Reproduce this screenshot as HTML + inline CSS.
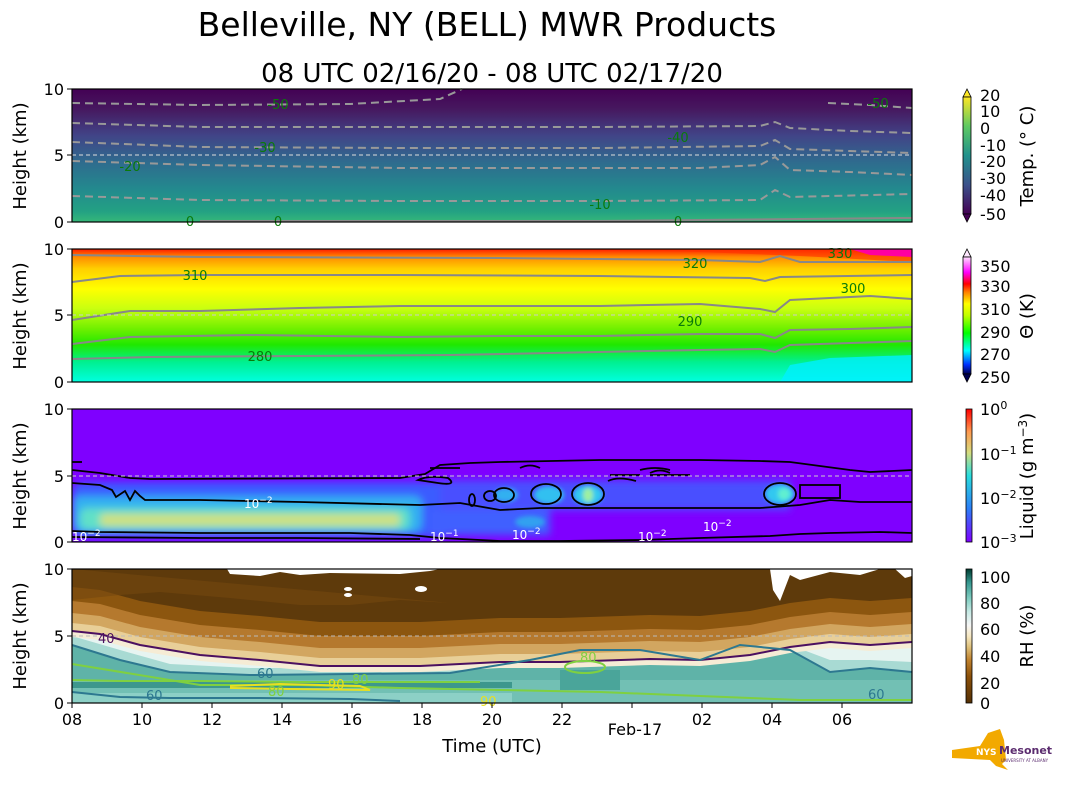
<!DOCTYPE html>
<html><head><meta charset="utf-8"><style>
body{margin:0;background:#fff;}
svg text{font-family:"DejaVu Sans","Liberation Sans",sans-serif;}
</style></head><body>
<svg width="1066" height="806" viewBox="0 0 1066 806" xmlns="http://www.w3.org/2000/svg">
<defs>
<linearGradient id="gT" x1="0" y1="0" x2="0" y2="1">
<stop offset="0" stop-color="#440154"/><stop offset="0.15" stop-color="#46185f"/><stop offset="0.35" stop-color="#414487"/><stop offset="0.55" stop-color="#2f6b8e"/><stop offset="0.75" stop-color="#23898e"/><stop offset="0.92" stop-color="#23a183"/><stop offset="1" stop-color="#35b779"/></linearGradient>
<linearGradient id="gP" x1="0" y1="0" x2="0" y2="1">
<stop offset="0" stop-color="#ff1a00"/><stop offset="0.06" stop-color="#ff8c00"/><stop offset="0.15" stop-color="#ffd000"/><stop offset="0.3" stop-color="#ffff00"/><stop offset="0.45" stop-color="#c8ff10"/><stop offset="0.6" stop-color="#70f000"/><stop offset="0.72" stop-color="#20e800"/><stop offset="0.85" stop-color="#00f090"/><stop offset="1" stop-color="#00ffe0"/></linearGradient>
<linearGradient id="gTc" x1="0" y1="1" x2="0" y2="0">
<stop offset="0" stop-color="#440154"/><stop offset="0.25" stop-color="#3b528b"/><stop offset="0.5" stop-color="#21918c"/><stop offset="0.75" stop-color="#5ec962"/><stop offset="1" stop-color="#fde725"/></linearGradient>
<linearGradient id="gPc" x1="0" y1="1" x2="0" y2="0">
<stop offset="0" stop-color="#000050"/><stop offset="0.08" stop-color="#0030ff"/><stop offset="0.2" stop-color="#00ffff"/><stop offset="0.35" stop-color="#00ff00"/><stop offset="0.5" stop-color="#c0ff00"/><stop offset="0.6" stop-color="#ffff00"/><stop offset="0.7" stop-color="#ff8000"/><stop offset="0.77" stop-color="#ff0000"/><stop offset="0.87" stop-color="#ff00ff"/><stop offset="1" stop-color="#ffe0ff"/></linearGradient>
<linearGradient id="gLc" x1="0" y1="1" x2="0" y2="0">
<stop offset="0" stop-color="#7f00ff"/><stop offset="0.25" stop-color="#2c7ef7"/><stop offset="0.5" stop-color="#2adddd"/><stop offset="0.67" stop-color="#d4dd80"/><stop offset="0.83" stop-color="#ff9a50"/><stop offset="1" stop-color="#ff0000"/></linearGradient>
<linearGradient id="gRc" x1="0" y1="1" x2="0" y2="0">
<stop offset="0" stop-color="#543005"/><stop offset="0.2" stop-color="#8c510a"/><stop offset="0.32" stop-color="#bf812d"/><stop offset="0.42" stop-color="#dfc27d"/><stop offset="0.5" stop-color="#f6e8c3"/><stop offset="0.58" stop-color="#f5f5f5"/><stop offset="0.68" stop-color="#c7eae5"/><stop offset="0.78" stop-color="#80cdc1"/><stop offset="0.9" stop-color="#35978f"/><stop offset="1" stop-color="#003c30"/></linearGradient>
<clipPath id="c4"><rect x="72" y="569" width="840" height="134"/></clipPath>
<clipPath id="c3"><rect x="72" y="409" width="840" height="133"/></clipPath>
<filter id="bl"><feGaussianBlur stdDeviation="4"/></filter>
<filter id="bl2"><feGaussianBlur stdDeviation="2"/></filter>
</defs>

<text x="487" y="36" font-size="33" text-anchor="middle">Belleville, NY (BELL) MWR Products</text>
<text x="492" y="82" font-size="26" text-anchor="middle">08 UTC 02/16/20 - 08 UTC 02/17/20</text>

<!-- Panel 1 -->
<rect x="72" y="89" width="840" height="133" fill="url(#gT)"/>
<g fill="none" stroke="#999" stroke-width="2" stroke-dasharray="8,5">
<polyline points="72,103 200,105 350,104 440,99 462,89"/>
<polyline points="828,103 870,105 912,108"/>
<polyline points="72,123 200,127 400,127 600,127 760,126 775,122 790,128 850,131 912,133"/>
<polyline points="72,142 200,147 400,148 600,148 760,146 775,140 790,149 850,151 912,153"/>
<polyline points="72,161 200,165 400,168 600,168 700,168 760,165 775,157 790,170 850,172 912,175"/>
<polyline points="72,196 200,200 400,201 600,201 760,200 775,190 790,197 912,194"/>
</g>
<g fill="none" stroke="#888" stroke-width="2"><polyline points="200,221 600,221 900,218 912,218"/></g>
<line x1="72" y1="155" x2="912" y2="155" stroke="#ddd" stroke-width="1" stroke-dasharray="4,3"/>
<g fill="#0a7a0a" font-size="13" text-anchor="middle">
<text x="278" y="109">-50</text><text x="878" y="108">-50</text><text x="265" y="152">-30</text><text x="678" y="142">-40</text>
<text x="130" y="171">-20</text><text x="600" y="209">-10</text><text x="190" y="226">0</text><text x="278" y="226">0</text><text x="678" y="226">0</text></g>
<rect x="72" y="89" width="840" height="133" fill="none" stroke="#000" stroke-width="1.2"/>

<!-- Panel 2 -->
<rect x="72" y="249" width="840" height="133" fill="url(#gP)"/>
<polygon points="600,249 912,249 912,262 800,256 700,252" fill="#ff3000" opacity="0.6"/>
<polygon points="850,249 912,249 912,257 870,255" fill="#ff00a0"/>
<polygon points="780,382 790,365 830,358 912,355 912,382" fill="#00f0ff" opacity="0.8"/>
<g fill="none" stroke="#888" stroke-width="2">
<polyline points="72,255 200,257 500,258 700,260 760,262 780,256 800,262 912,262"/>
<polyline points="72,282 120,276 200,275 400,275 600,276 750,278 765,281 780,277 912,275"/>
<polyline points="72,320 130,311 200,311 300,308 400,306 500,306 600,306 700,304 760,309 775,312 790,300 830,298 870,296 912,299"/>
<polyline points="72,344 130,337 250,335 400,337 500,336 600,336 700,334 760,334 775,338 790,330 850,329 912,327"/>
<polyline points="72,359 150,357 300,356 450,355 550,353 700,350 760,349 775,352 790,345 850,343 912,341"/>
</g>
<line x1="72" y1="315" x2="912" y2="315" stroke="#ccc" stroke-width="1" stroke-dasharray="4,3"/>
<g fill="#0a7a0a" font-size="13" text-anchor="middle">
<text x="195" y="280">310</text><text x="695" y="268">320</text><text x="840" y="258">330</text><text x="853" y="293">300</text><text x="690" y="326">290</text><text x="260" y="361">280</text></g>
<rect x="72" y="249" width="840" height="133" fill="none" stroke="#000" stroke-width="1.2"/>

<!-- Panel 3 -->
<rect x="72" y="409" width="840" height="133" fill="#7f00ff"/>
<g clip-path="url(#c3)">
<g filter="url(#bl)">
<rect x="72" y="482" width="380" height="55" fill="#3a5cff" rx="10"/>
<rect x="72" y="496" width="350" height="36" fill="#30b0f0" rx="8"/>
<rect x="80" y="508" width="330" height="22" fill="#60e0c8" rx="6"/>
<rect x="100" y="514" width="300" height="12" fill="#cfe080" rx="4"/>
<rect x="440" y="480" width="350" height="30" fill="#4a50ff"/>
<rect x="430" y="510" width="120" height="25" fill="#4060ff"/>
</g>
<g filter="url(#bl2)">
<ellipse cx="506" cy="495" rx="12" ry="7" fill="#30b0f0"/><ellipse cx="549" cy="495" rx="15" ry="9" fill="#30c0f0"/>
<ellipse cx="588" cy="495" rx="15" ry="10" fill="#30c8f0"/><ellipse cx="588" cy="495" rx="5" ry="7" fill="#9ef0a0"/>
<ellipse cx="780" cy="494" rx="15" ry="10" fill="#30c8f0"/><ellipse cx="784" cy="494" rx="6" ry="6" fill="#60f0d0"/>
<ellipse cx="530" cy="522" rx="15" ry="6" fill="#30a0f0"/>
</g>
<g fill="none" stroke="#000" stroke-width="1.8">
<polyline points="72,483 100,485 112,490 116,497 125,491 130,500 135,491 140,496 145,500 200,500 300,502 420,505 460,503 500,510 540,508 600,508 760,508 800,505 830,500 860,502 912,502"/>
<polyline points="72,470 100,473 130,478 150,479 400,478 425,474 440,465 470,463 500,462 600,460 700,460 760,461 790,462 820,466 850,470 870,472 912,470"/>
<polyline points="72,531 100,532 200,533 350,533 410,535 440,538 500,541 560,541 640,540 700,538 770,536 800,534 830,533 880,532 912,533"/>
<polyline points="72,537 200,538 300,538 420,539"/>
<polyline points="72,462 82,462"/>
<path d="M418,480 q10,-5 30,-2 q10,8 -10,5 z"/>
<ellipse cx="504" cy="495" rx="10" ry="7"/><ellipse cx="546" cy="494" rx="15" ry="10"/><ellipse cx="588" cy="494" rx="16" ry="11"/><ellipse cx="780" cy="494" rx="16" ry="11"/>
<ellipse cx="472" cy="500" rx="3" ry="6"/><ellipse cx="490" cy="496" rx="6" ry="5"/>
<rect x="800" y="485" width="40" height="13"/>
<path d="M610,475 h30 M650,475 h40 M430,468 h30 M520,468 q10,-5 20,0 M650,473 q10,-5 20,0"/>
<path d="M608,481 q10,-5 28,0 M640,470 q15,-4 30,0"/>
</g>
</g>
<line x1="72" y1="476" x2="912" y2="476" stroke="#ccc" stroke-width="1" stroke-dasharray="4,3"/>
<g fill="#fff" font-size="12">
<text x="244" y="508">10<tspan dy="-5" font-size="9">−2</tspan></text>
<text x="72" y="541">10<tspan dy="-5" font-size="9">−2</tspan></text>
<text x="430" y="541">10<tspan dy="-5" font-size="9">−1</tspan></text>
<text x="512" y="539">10<tspan dy="-5" font-size="9">−2</tspan></text>
<text x="638" y="541">10<tspan dy="-5" font-size="9">−2</tspan></text>
<text x="703" y="531">10<tspan dy="-5" font-size="9">−2</tspan></text></g>
<rect x="72" y="409" width="840" height="133" fill="none" stroke="#000" stroke-width="1.2"/>

<!-- Panel 4 -->
<rect x="72" y="569" width="840" height="134" fill="#5fb3a8"/>
<g clip-path="url(#c4)">
<defs><polyline id="L40" points="72,631 100,634 140,645 200,655 260,660 320,666 420,666 500,662 560,662 650,659 700,660 750,655 790,647 830,642 870,645 912,642 912,560 72,560"/></defs>
<polygon points="72,645 120,660 170,672 250,675 350,674 450,673 530,660 580,650 640,650 700,660 740,645 790,650 830,672 870,668 912,672 912,560 72,560" fill="#a8dad3"/>
<polygon points="72,636 120,650 170,664 250,668 350,668 450,668 530,655 580,645 640,645 700,655 740,640 790,645 830,660 870,660 912,662 912,560 72,560" fill="#e6f4f1"/>
<use href="#L40" transform="translate(0,6)" fill="#f6ecd5"/>
<use href="#L40" fill="#e8cf98"/>
<use href="#L40" transform="translate(0,-8)" fill="#d2a660"/>
<use href="#L40" transform="translate(0,-18)" fill="#b5792e"/>
<use href="#L40" transform="translate(0,-30)" fill="#8c560f"/>
<use href="#L40" transform="translate(0,-44)" fill="#5e3a0b"/>
<polygon points="72,569 72,600 120,595 160,592 230,598 300,605 350,605 400,600 450,603" fill="#74470f" opacity="0.6"/>
<rect x="72" y="680" width="840" height="23" fill="#72c0b4"/>
<rect x="72" y="682" width="440" height="6" fill="#3d978d"/>
<rect x="72" y="693" width="440" height="10" fill="#8cd0c6"/>
<rect x="560" y="670" width="60" height="20" fill="#4aa59a"/>
</g>
<polygon points="227,569 230,574 260,576 280,572 300,575 330,573 400,574 430,571 440,569" fill="#fff"/>
<polygon points="770,569 773,590 780,601 790,575 800,580 830,572 860,575 880,569" fill="#fff"/>
<polygon points="895,569 905,578 912,576 912,569" fill="#fff"/>
<ellipse cx="348" cy="589" rx="4" ry="2" fill="#fff"/><ellipse cx="348" cy="595" rx="4" ry="2" fill="#fff"/><ellipse cx="421" cy="589" rx="6" ry="3" fill="#fff"/>
<g fill="none" stroke-width="2">
<polyline stroke="#4b1060" points="72,631 100,634 140,645 200,655 260,660 320,666 420,666 500,662 560,662 650,659 700,660 750,655 790,647 830,642 870,645 912,642"/>
<polyline stroke="#2d7890" points="72,645 120,660 170,672 250,675 350,674 450,673 530,660 580,650 640,650 700,660 740,645 790,650 830,672 870,668 912,672"/>
<polyline stroke="#2d7890" points="72,692 120,697 170,698 260,698 350,699 400,701"/>
<polyline stroke="#7fd040" points="72,664 200,685 300,685 400,688 500,690 600,692 700,696 800,700 912,700"/>
<polyline stroke="#7fd040" points="72,680 120,681 200,681 300,682 420,682 480,682"/>
<ellipse stroke="#7fd040" cx="585" cy="667" rx="20" ry="6"/>
<polyline stroke="#e8e020" points="230,686 280,684 360,686 370,690 290,689 230,688"/>
</g>
<line x1="72" y1="636" x2="912" y2="636" stroke="#bbb" stroke-width="1" stroke-dasharray="4,3"/>
<g font-size="13">
<text x="98" y="643" fill="#4b1060">40</text>
<text x="257" y="678" fill="#2d7890">60</text><text x="146" y="700" fill="#2d7890">60</text><text x="868" y="699" fill="#2d7890">60</text>
<text x="268" y="696" fill="#7fd040">80</text><text x="352" y="684" fill="#7fd040">80</text><text x="580" y="662" fill="#7fd040">80</text>
<text x="328" y="689" fill="#e8e020">90</text><text x="480" y="706" fill="#e8e020">90</text></g>
<rect x="72" y="569" width="840" height="134" fill="none" stroke="#000" stroke-width="1.2"/>

<!-- Y axes -->
<g stroke="#000" stroke-width="1">
<line x1="67" y1="89" x2="72" y2="89"/><line x1="67" y1="155" x2="72" y2="155"/><line x1="67" y1="222" x2="72" y2="222"/>
<line x1="67" y1="249" x2="72" y2="249"/><line x1="67" y1="315" x2="72" y2="315"/><line x1="67" y1="382" x2="72" y2="382"/>
<line x1="67" y1="409" x2="72" y2="409"/><line x1="67" y1="476" x2="72" y2="476"/><line x1="67" y1="542" x2="72" y2="542"/>
<line x1="67" y1="569" x2="72" y2="569"/><line x1="67" y1="636" x2="72" y2="636"/><line x1="67" y1="703" x2="72" y2="703"/>
</g>
<g font-size="16" text-anchor="end">
<text x="64" y="95">10</text><text x="64" y="161">5</text><text x="64" y="228">0</text>
<text x="64" y="255">10</text><text x="64" y="321">5</text><text x="64" y="388">0</text>
<text x="64" y="415">10</text><text x="64" y="482">5</text><text x="64" y="548">0</text>
<text x="64" y="575">10</text><text x="64" y="642">5</text><text x="64" y="709">0</text></g>
<g font-size="18" text-anchor="middle">
<text transform="translate(26,156) rotate(-90)">Height (km)</text>
<text transform="translate(26,316) rotate(-90)">Height (km)</text>
<text transform="translate(26,476) rotate(-90)">Height (km)</text>
<text transform="translate(26,636) rotate(-90)">Height (km)</text></g>

<!-- X axis -->
<g stroke="#000"><line x1="72" y1="703" x2="72" y2="708"/><line x1="142" y1="703" x2="142" y2="708"/><line x1="212" y1="703" x2="212" y2="708"/><line x1="282" y1="703" x2="282" y2="708"/><line x1="352" y1="703" x2="352" y2="708"/><line x1="422" y1="703" x2="422" y2="708"/><line x1="492" y1="703" x2="492" y2="708"/><line x1="562" y1="703" x2="562" y2="708"/><line x1="632" y1="703" x2="632" y2="708"/><line x1="702" y1="703" x2="702" y2="708"/><line x1="772" y1="703" x2="772" y2="708"/><line x1="842" y1="703" x2="842" y2="708"/></g>
<g font-size="16" text-anchor="middle">
<text x="72" y="725">08</text><text x="142" y="725">10</text><text x="212" y="725">12</text><text x="282" y="725">14</text><text x="352" y="725">16</text><text x="422" y="725">18</text><text x="492" y="725">20</text><text x="562" y="725">22</text><text x="635" y="735">Feb-17</text><text x="702" y="725">02</text><text x="772" y="725">04</text><text x="842" y="725">06</text></g>
<text x="492" y="752" font-size="18" text-anchor="middle">Time (UTC)</text>

<!-- Colorbars -->
<g>
<polygon points="963,97 967,89 971,97" fill="#fde725" stroke="#000" stroke-width="0.8"/>
<rect x="963" y="97" width="8" height="117" fill="url(#gTc)" stroke="#000" stroke-width="0.8"/>
<polygon points="963,214 967,222 971,214" fill="#440154" stroke="#000" stroke-width="0.8"/>
<polygon points="963,257 967,249 971,257" fill="#ffe8ff" stroke="#000" stroke-width="0.8"/>
<rect x="963" y="257" width="8" height="117" fill="url(#gPc)" stroke="#000" stroke-width="0.8"/>
<polygon points="963,374 967,382 971,374" fill="#000050" stroke="#000" stroke-width="0.8"/>
<rect x="966" y="409" width="6" height="133" fill="url(#gLc)" stroke="#000" stroke-width="0.8"/>
<rect x="966" y="569" width="6" height="134" fill="url(#gRc)" stroke="#000" stroke-width="0.8"/>
</g>
<g font-size="16">
<text x="980" y="101">20</text><text x="980" y="117">10</text><text x="980" y="134">0</text><text x="980" y="151">-10</text><text x="980" y="167">-20</text><text x="980" y="184">-30</text><text x="980" y="201">-40</text><text x="980" y="220">-50</text>
<text x="980" y="272">350</text><text x="980" y="292">330</text><text x="980" y="315">310</text><text x="980" y="338">290</text><text x="980" y="360">270</text><text x="980" y="383">250</text>
<text x="980" y="415">10<tspan dy="-6" font-size="11">0</tspan></text><text x="980" y="460">10<tspan dy="-6" font-size="11">−1</tspan></text><text x="980" y="504">10<tspan dy="-6" font-size="11">−2</tspan></text><text x="980" y="548">10<tspan dy="-6" font-size="11">−3</tspan></text>
<text x="980" y="583">100</text><text x="980" y="609">80</text><text x="980" y="635">60</text><text x="980" y="662">40</text><text x="980" y="689">20</text><text x="980" y="709">0</text></g>
<g font-size="18" text-anchor="middle">
<text transform="translate(1033,156) rotate(-90)">Temp. (° C)</text>
<text transform="translate(1033,316) rotate(-90)">Θ (K)</text>
<text transform="translate(1033,476) rotate(-90)">Liquid (g m<tspan dy="-6" font-size="12">−3</tspan><tspan dy="6">)</tspan></text>
<text transform="translate(1033,636) rotate(-90)">RH (%)</text></g>

<!-- Logo -->
<polygon points="952,750 980,746 988,733 1000,729 1004,740 1006,760 1002,764 1008,770 996,766 990,760 952,758" fill="#f2a900"/>
<text x="976" y="755" font-size="9" font-weight="bold" fill="#fff">NYS</text>
<text x="999" y="754" font-size="11" font-weight="bold" fill="#5b2c6f">Mesonet</text>
<text x="1001" y="762" font-size="4" fill="#5b2c6f">UNIVERSITY AT ALBANY</text>
</svg>
</body></html>
